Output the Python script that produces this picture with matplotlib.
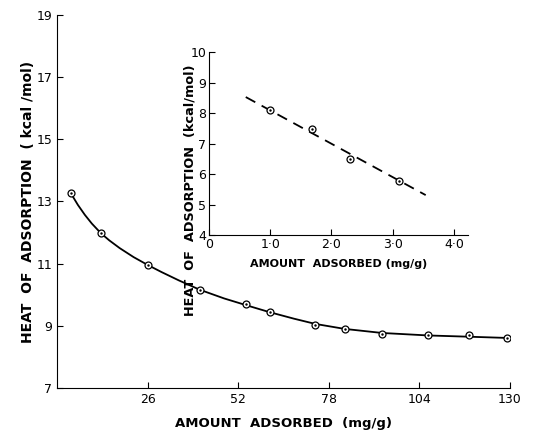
import numpy as np
import matplotlib
matplotlib.use("Agg")
import matplotlib.pyplot as plt

# main plot data
amount = [3.9, 12.6, 26.0, 41.1, 54.3, 61.1, 74.2, 82.6, 93.3, 106.5, 118.2, 129.2]
heat = [13.28, 11.98, 10.97, 10.14, 9.71, 9.46, 9.02, 8.89, 8.75, 8.71, 8.72, 8.61]

# smooth curve drawn through the points
curve_x = [3.9, 6, 8, 10, 12.6, 15, 18, 22, 26, 30, 35, 41, 48, 55, 61, 68,
           74.2, 82.6, 93.3, 106.5, 118, 129.2]
curve_y = [13.28, 12.89, 12.57, 12.29, 11.98, 11.75, 11.50, 11.21, 10.96, 10.73,
           10.46, 10.16, 9.88, 9.64, 9.44, 9.23, 9.06, 8.90, 8.77, 8.69, 8.65, 8.61]

# inset data
inset_x = [1.0, 1.69, 2.30, 3.10]
inset_y = [8.1, 7.49, 6.49, 5.77]
inset_line_x = [0.6, 3.54]
inset_line_y = [8.53, 5.31]

xticks = [26, 52, 78, 104, 130]
yticks = [7, 9, 11, 13, 15, 17, 19]
inset_xticks = [0, 1, 2, 3, 4]
inset_xlabels = ["0", "1\u00b70", "2\u00b70", "3\u00b70", "4\u00b70"]
inset_yticks = [4, 5, 6, 7, 8, 9, 10]

plt.rcParams['font.family'] = 'DejaVu Sans'

fig = plt.figure(figsize=(5.36, 4.32), dpi=100)

ax = fig.add_axes([0.1063, 0.1019, 0.845, 0.8634])
ax.plot(curve_x, curve_y, color="black", lw=1.3)
ax.plot(amount, heat, "o", ms=5, mfc="white", mec="black", mew=0.9)
ax.plot(amount, heat, ".", ms=1.5, color="black")
ax.set_xlim(0, 130)
ax.set_ylim(7, 19)
ax.set_xticks(xticks)
ax.set_yticks(yticks)
ax.tick_params(direction="in", length=4, width=0.8, labelsize=9)
for s in ["top", "right"]:
    ax.spines[s].set_visible(False)
ax.set_xlabel("AMOUNT  ADSORBED  (mg/g)", fontsize=9.5, fontweight="bold", labelpad=8)
ax.set_ylabel("HEAT  OF  ADSORPTION  ( kcal /mol)", fontsize=10, fontweight="bold", labelpad=1)

ins = fig.add_axes([0.390, 0.456, 0.483, 0.423])
ins.plot(inset_line_x, inset_line_y, color="black", lw=1.3, ls=(0, (6, 4)))
ins.plot(inset_x, inset_y, "o", ms=5, mfc="white", mec="black", mew=0.9)
ins.plot(inset_x, inset_y, ".", ms=1.5, color="black")
ins.set_xlim(0, 4.23)
ins.set_ylim(4, 10)
ins.set_xticks(inset_xticks)
ins.set_xticklabels(inset_xlabels)
ins.set_yticks(inset_yticks)
ins.tick_params(direction="in", length=4, width=0.8, labelsize=9, pad=2)
for s in ["top", "right"]:
    ins.spines[s].set_visible(False)
ins.set_facecolor("none")
ins.set_xlabel("AMOUNT  ADSORBED (mg/g)", fontsize=8, fontweight="bold", labelpad=6)
fig.text(0.355, 0.56, "HEAT  OF  ADSORPTION  (kcal/mol)", rotation=90,
         fontsize=9.3, fontweight="bold", ha="center", va="center")

fig.savefig("out.png", dpi=100)
